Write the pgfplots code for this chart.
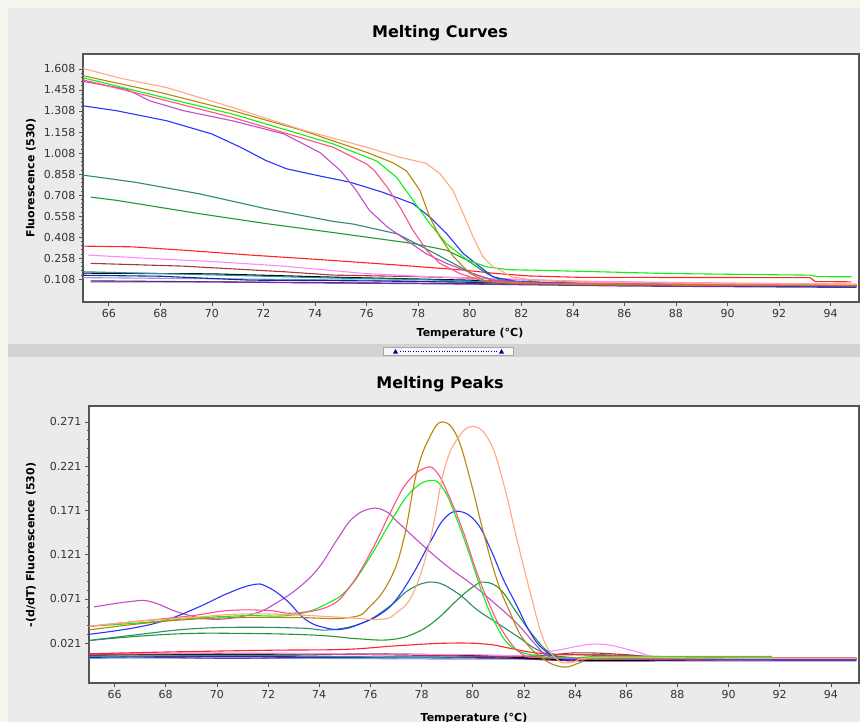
\documentclass[border=0pt]{standalone}
\usepackage{pgfplots}
\pgfplotsset{compat=1.18}
\usepackage{fontspec}
\setmainfont{DejaVu Sans}

\definecolor{panel}{HTML}{EBEBEB}
\definecolor{outer}{HTML}{F6F5EE}
\definecolor{split}{HTML}{D3D3D3}
\definecolor{frame}{HTML}{555555}
\definecolor{ticktxt}{HTML}{333333}
\definecolor{cPeach}{HTML}{FFA882}
\definecolor{cGold}{HTML}{B8860B}
\definecolor{cLime}{HTML}{10F010}
\definecolor{cPink}{HTML}{FF5088}
\definecolor{cOrchid}{HTML}{C050C8}
\definecolor{cBlue}{HTML}{2535FF}
\definecolor{cTeal}{HTML}{2E8B70}
\definecolor{cForest}{HTML}{229A33}
\definecolor{cRed}{HTML}{FF2525}
\definecolor{cViolet}{HTML}{FF88FF}
\definecolor{cBrick}{HTML}{A83838}
\definecolor{cCyan}{HTML}{209A9A}
\definecolor{cNavy}{HTML}{2020A0}
\definecolor{cPurple}{HTML}{7030A0}
\definecolor{cSky}{HTML}{8899DD}
\definecolor{cSlate}{HTML}{303060}

\pgfplotsset{
  meltaxis/.style={
    scale only axis,
    xmin=65, xmax=95.1,
    xtick={66,68,...,94},
    tick align=outside,
    tick pos=left,
    major tick length=4pt,
    minor tick length=2pt,
    minor y tick num=4,
    axis line style={frame, line width=1.3pt},
    every tick/.style={frame, line width=0.6pt},
    axis background/.style={fill=white},
    tick label style={font=\fontsize{11}{13}\selectfont, text=ticktxt},
    /pgf/number format/assume math mode=true,
    every axis plot/.append style={line width=1.1pt},
    clip=true,
  },
}

\begin{document}
\begin{tikzpicture}
% window background
\fill[outer] (0pt,0pt) rectangle (860pt,-722pt);
\fill[panel] (8pt,-8pt) rectangle (860pt,-722pt);
% splitter between the two panels
\fill[split] (8pt,-344pt) rectangle (860pt,-357pt);
\draw[gray!70, fill=white!94!gray] (383pt,-347pt) rectangle (513pt,-355pt);
\draw[blue!60!black, dotted, line width=0.6pt] (400pt,-351pt) -- (497pt,-351pt);
\fill[blue!60!black] (393pt,-353.5pt) -- (398pt,-353.5pt) -- (395.5pt,-349pt) -- cycle;
\fill[blue!60!black] (499pt,-353.5pt) -- (504pt,-353.5pt) -- (501.5pt,-349pt) -- cycle;

% titles and labels
\node[font=\fontsize{16}{18}\bfseries\selectfont] at (440pt,-33pt) {Melting Curves};
\node[font=\fontsize{16}{18}\bfseries\selectfont] at (440pt,-384pt) {Melting Peaks};
\node[font=\fontsize{11}{13}\bfseries\selectfont] at (470pt,-333pt) {Temperature (°C)};
\node[font=\fontsize{11}{13}\bfseries\selectfont] at (474pt,-718pt) {Temperature (°C)};
\node[font=\fontsize{11}{13}\bfseries\selectfont, rotate=90] at (31pt,-178pt) {Fluorescence (530)};
\node[font=\fontsize{11}{13}\bfseries\selectfont, rotate=90] at (31pt,-545pt) {-(d/dT) Fluorescence (530)};

% ---------------- melting curves ----------------
\begin{axis}[meltaxis,
  at={(83pt,-302pt)}, anchor=south west,
  width=776pt, height=248pt,
  ymin=-0.056, ymax=1.715,
  ytick={0.108,0.258,0.408,0.558,0.708,0.858,1.008,1.158,1.308,1.458,1.608},
  yticklabels={0.108,0.258,0.408,0.558,0.708,0.858,1.008,1.158,1.308,1.458,1.608},
]
% low, flat traces
\addplot[cSlate] coordinates {(65.3,0.095)(72,0.085)(80,0.075)(88,0.06)(95,0.055)};
\addplot[cPurple] coordinates {(65.3,0.088)(70,0.088)(73,0.082)(80,0.072)(86,0.058)(95,0.048)};
\addplot[cSky] coordinates {(65,0.118)(70,0.11)(76,0.1)(82,0.08)(95,0.06)};
\addplot[cNavy] coordinates {(65,0.135)(68,0.128)(71.5,0.1)(76,0.095)(80,0.085)(86,0.068)(95,0.052)};
\addplot[black] coordinates {(65,0.15)(70,0.145)(75,0.12)(80,0.1)(85,0.072)(95,0.065)};
\addplot[cCyan] coordinates {(65,0.16)(70,0.138)(74.7,0.115)(78,0.105)(82,0.08)(88,0.07)(95,0.064)};
\addplot[cBrick] coordinates {(65.3,0.22)(68.9,0.2)(72.8,0.16)(74.7,0.136)(78,0.125)(81,0.11)(84,0.09)(90,0.075)(95,0.07)};
\addplot[cViolet] coordinates {(65.2,0.279)(67.6,0.255)(70.2,0.231)(72.8,0.2)(75.9,0.148)(78.45,0.124)(81,0.11)(85,0.09)(95,0.07)};
\addplot[cRed] coordinates {(65,0.343)(66.9,0.338)(68.9,0.314)(71.5,0.279)(74.1,0.248)(77.2,0.208)(79.75,0.172)(81,0.148)(82.3,0.13)(84.3,0.12)(93.2,0.118)(93.4,0.09)(94.8,0.088)};
% melting transitions
\addplot[cForest] coordinates {(65.3,0.693)(66.3,0.67)(69.5,0.575)(72.1,0.504)(74.7,0.44)(77.8,0.362)(79.1,0.314)(79.9,0.243)(80.65,0.148)(81.2,0.1)(83,0.08)(90,0.065)(95,0.06)};
\addplot[cTeal] coordinates {(65,0.85)(67,0.8)(69.5,0.717)(72.1,0.61)(74.7,0.52)(75.5,0.5)(77.2,0.43)(78.45,0.31)(79.36,0.22)(80.1,0.148)(80.9,0.1)(82,0.08)(90,0.065)(95,0.06)};
\addplot[cBlue] coordinates {(65,1.345)(66.3,1.31)(68.25,1.238)(70,1.144)(71.1,1.05)(72.1,0.954)(72.9,0.895)(74.1,0.847)(75.35,0.8)(76.6,0.729)(77.8,0.646)(78.45,0.551)(79.1,0.433)(79.75,0.29)(80.4,0.195)(80.9,0.124)(81.8,0.09)(85,0.07)(95,0.055)};
\addplot[cOrchid] coordinates {(65,1.52)(66.7,1.463)(67.6,1.38)(68.9,1.31)(70.8,1.238)(72.8,1.144)(74.2,1.01)(75,0.88)(75.6,0.74)(76.1,0.6)(76.8,0.48)(77.55,0.385)(78.3,0.29)(79.1,0.22)(80.1,0.148)(80.9,0.1)(83,0.075)(90,0.065)(95,0.06)};
\addplot[cPink] coordinates {(65,1.53)(67,1.44)(70.8,1.262)(74.7,1.049)(76,0.93)(76.3,0.883)(76.8,0.764)(77.3,0.62)(77.8,0.456)(78.33,0.314)(78.84,0.22)(79.6,0.148)(80.4,0.1)(82,0.08)(88,0.07)(95,0.065)};
\addplot[cLime] coordinates {(65,1.545)(68,1.41)(70.8,1.286)(74.7,1.073)(76.4,0.95)(77.16,0.835)(77.8,0.67)(78.45,0.504)(79.1,0.36)(79.9,0.245)(80.65,0.195)(81.5,0.175)(82.3,0.172)(85,0.16)(87.5,0.148)(91,0.14)(93.2,0.136)(93.5,0.125)(94.8,0.124)};
\addplot[cGold] coordinates {(65,1.56)(68,1.44)(70.8,1.31)(73.5,1.17)(76,1.013)(77,0.94)(77.55,0.88)(78.07,0.74)(78.45,0.55)(78.84,0.41)(79.36,0.27)(80,0.15)(80.65,0.09)(82,0.075)(86,0.065)(95,0.06)};
\addplot[cPeach] coordinates {(65,1.612)(66.5,1.54)(68.25,1.475)(70.8,1.333)(73.4,1.179)(76,1.049)(77.3,0.977)(78.3,0.935)(78.85,0.86)(79.35,0.74)(79.75,0.575)(80.13,0.41)(80.5,0.27)(80.9,0.195)(81.2,0.17)(81.6,0.125)(82.5,0.1)(85,0.085)(90,0.075)(95,0.07)};
\end{axis}

% ---------------- melting peaks ----------------
\begin{axis}[meltaxis,
  at={(89pt,-683pt)}, anchor=south west,
  width=770pt, height=277pt,
  ymin=-0.024, ymax=0.289,
  ytick={0.021,0.071,0.121,0.171,0.221,0.271},
  yticklabels={0.021,0.071,0.121,0.171,0.221,0.271},
  every axis plot/.append style={smooth, tension=0.7},
]
% low, flat traces
\addplot[cSky] coordinates {(65,0.004)(72,0.004)(80,0.003)(86,0.003)(90,0.003)(95,0.003)};
\addplot[cPurple] coordinates {(65,0.007)(70,0.004)(74,0.005)(80,0.005)(84,0.001)(88,0.001)(92,0.001)(95,0.001)};
\addplot[cNavy] coordinates {(65,0.005)(70,0.006)(76,0.005)(82,0.004)(88,0.003)(92,0.002)(95,0.002)};
\addplot[black] coordinates {(65,0.008)(70,0.008)(75,0.009)(80,0.007)(84,0.002)(88,0.002)(92,0.003)(95,0.003)};
\addplot[cCyan] coordinates {(65,0.006)(72,0.007)(78,0.005)(84,0.008)(86,0.007)(90,0.004)(95,0.004)};
\addplot[cBrick] coordinates {(65,0.008)(70,0.009)(76,0.008)(82,0.006)(84,0.010)(86,0.008)(88,0.003)(92,0.004)(95,0.004)};
\addplot[cViolet] coordinates {(65,0.009)(70,0.010)(75,0.009)(80,0.008)(82,0.007)(83.3,0.013)(84.85,0.020)(86.2,0.013)(87.2,0.005)(88.5,0.004)(91,0.004)(95,0.004)};
\addplot[cRed] coordinates {(65,0.009)(68,0.011)(72,0.013)(75,0.014)(77,0.018)(79,0.021)(80.5,0.020)(81.5,0.015)(82.5,0.010)(84,0.008)(88,0.005)(91,0.004)(95,0.004)};
% peaks
\addplot[cForest] coordinates {(65,0.024)(67,0.029)(69,0.032)(71,0.032)(73,0.031)(74.4,0.029)(75.5,0.026)(76.8,0.025)(77.8,0.033)(78.6,0.048)(79.4,0.070)(80.03,0.085)(80.45,0.090)(81.07,0.082)(81.73,0.055)(82.38,0.029)(83.03,0.010)(83.8,0.005)(86,0.003)(90,0.003)(95,0.003)};
\addplot[cTeal] coordinates {(65,0.024)(67,0.031)(68.9,0.037)(71,0.039)(73.3,0.038)(74.4,0.036)(75.7,0.044)(76.77,0.063)(77.55,0.082)(78.47,0.090)(79.38,0.078)(80.16,0.059)(80.94,0.044)(81.73,0.029)(82.5,0.014)(83.3,0.006)(85,0.004)(90,0.003)(95,0.003)};
\addplot[cOrchid] coordinates {(65.2,0.062)(66.6,0.068)(67.4,0.068)(68.6,0.055)(69.9,0.048)(71.4,0.054)(72.3,0.066)(73.25,0.085)(74.0,0.107)(74.7,0.138)(75.3,0.162)(76.0,0.173)(76.6,0.170)(77.1,0.157)(78.07,0.131)(79,0.108)(79.9,0.089)(80.7,0.070)(81.7,0.044)(82.5,0.018)(83,0.006)(84,0.004)(88,0.003)(95,0.003)};
\addplot[cBlue] coordinates {(65,0.031)(66.7,0.038)(68,0.047)(69.3,0.062)(70.4,0.077)(71.4,0.087)(71.95,0.085)(72.7,0.070)(73.5,0.047)(74.3,0.038)(74.95,0.037)(75.7,0.044)(76.4,0.054)(77.0,0.070)(77.7,0.101)(78.35,0.136)(78.9,0.162)(79.48,0.170)(80.16,0.157)(80.7,0.127)(81.2,0.093)(81.73,0.063)(82.25,0.033)(82.77,0.014)(83.55,0.003)(85,0.004)(90,0.003)(95,0.003)};
\addplot[cLime] coordinates {(65,0.040)(67,0.044)(69,0.049)(71,0.052)(73,0.053)(74.4,0.067)(75.2,0.085)(76,0.119)(76.77,0.157)(77.55,0.191)(78.34,0.205)(78.86,0.195)(79.38,0.161)(79.9,0.119)(80.42,0.074)(80.94,0.040)(81.47,0.018)(82.25,0.008)(83.5,0.004)(85,0.006)(88,0.006)(91.7,0.006)};
\addplot[cPink] coordinates {(65,0.040)(67,0.046)(69,0.052)(70.5,0.058)(72,0.058)(73,0.055)(74.4,0.063)(75.2,0.085)(76,0.123)(76.77,0.168)(77.42,0.202)(78.14,0.219)(78.6,0.214)(79.12,0.184)(79.64,0.146)(80.16,0.101)(80.68,0.063)(81.2,0.033)(81.86,0.010)(82.5,0.005)(84,0.004)(90,0.004)(95,0.004)};
\addplot[cGold] coordinates {(65,0.036)(67,0.043)(69,0.048)(71,0.050)(73,0.050)(75.2,0.050)(76,0.063)(76.77,0.093)(77.3,0.138)(77.81,0.214)(78.34,0.255)(78.82,0.271)(79.38,0.255)(79.9,0.206)(80.42,0.146)(80.94,0.093)(81.47,0.055)(81.99,0.025)(82.77,0.003)(83.55,-0.006)(84.2,-0.001)(85,0.004)(90,0.004)(95,0.004)};
\addplot[cPeach] coordinates {(65,0.040)(67,0.046)(69,0.050)(71,0.054)(73,0.053)(75,0.050)(76.4,0.048)(77,0.055)(77.68,0.078)(78.34,0.138)(78.86,0.214)(79.38,0.251)(80.03,0.266)(80.68,0.248)(81.2,0.202)(81.73,0.138)(82.25,0.078)(82.77,0.025)(83.29,0.003)(83.81,-0.001)(85,0.005)(90,0.004)(95,0.004)};
\end{axis}

\pgfresetboundingbox
\path (0pt,0pt) rectangle (860pt,-722pt);
\end{tikzpicture}
\end{document}
